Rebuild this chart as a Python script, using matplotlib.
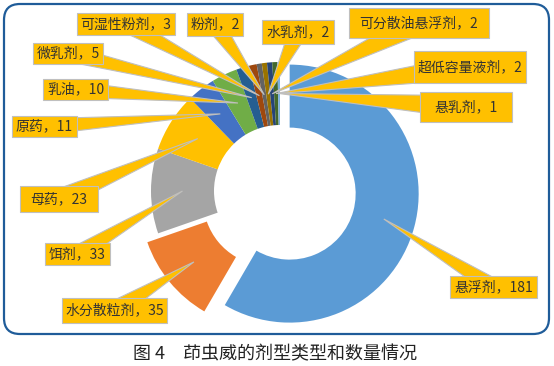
import numpy as np
import matplotlib
matplotlib.use("Agg")
import matplotlib.pyplot as plt
from matplotlib.patches import FancyBboxPatch, Rectangle, Polygon

plt.rcParams['font.family'] = ['Noto Sans CJK SC', 'DejaVu Sans']

# data
names = ['悬浮剂', '水分散粒剂', '饵剂', '母药', '原药', '乳油', '微乳剂',
         '可湿性粉剂', '粉剂', '水乳剂', '可分散油悬浮剂', '超低容量液剂', '悬乳剂']
counts = [181, 35, 33, 23, 11, 10, 5, 3, 2, 2, 2, 2, 1]
colors = ['#5B9BD5', '#ED7D31', '#A5A5A5', '#FFC000', '#4472C4', '#70AD47',
          '#255E91', '#9E480E', '#636363', '#997300', '#264478', '#43682B',
          '#7CAFDD']
explode = [10, 14, 0, 0, 0, 0, 0, 0, 0, 0, 0, 0, 0]

# label boxes in pixel coords (x0, y0, x1, y1), y measured from the top
boxes = [(450, 276, 537, 298), (62, 298, 167, 323), (45, 243, 110, 265),
         (20, 186, 98, 212), (12, 116, 77, 137), (43, 79, 108, 100),
         (33, 43, 103, 64), (77, 13, 175, 35), (187, 13, 243, 36),
         (262, 20, 334, 44), (349, 8, 489, 38), (414, 51, 526, 83),
         (420, 92, 512, 122)]

W, H = 554, 366
R, RING = 129, 63
CX, CY = 280, 191

fig = plt.figure(figsize=(W / 100, H / 100), dpi=100)
ax = fig.add_axes([0, 0, 1, 1])

wedges, _ = ax.pie(counts, colors=colors, startangle=90, counterclock=False,
                   radius=R, center=(CX, H - CY), explode=explode,
                   wedgeprops=dict(width=RING, linewidth=0))

ax.set_xlim(0, W)
ax.set_ylim(0, H)
ax.set_aspect('equal')
ax.axis('off')

# outer frame
frame = FancyBboxPatch((4, H - 334), 545, 330,
                       boxstyle="round,pad=0,rounding_size=16",
                       facecolor='none', edgecolor='#1F5C99', linewidth=1.6,
                       zorder=0)
ax.add_patch(frame)

# callout labels
for w, name, n, (x0, y0, x1, y1) in zip(wedges, names, counts, boxes):
    cx, cy = w.center
    ang = np.deg2rad((w.theta1 + w.theta2) / 2)
    rm = w.r - w.width / 2
    tx, ty = cx + rm * np.cos(ang), cy + rm * np.sin(ang)

    bx, by = (x0 + x1) / 2, H - (y0 + y1) / 2
    dx, dy = tx - bx, ty - by
    L = np.hypot(dx, dy)
    px, py = -dy / L, dx / L
    hw = 0.38 * (y1 - y0)
    tail = Polygon([(bx + px * hw, by + py * hw), (bx - px * hw, by - py * hw),
                    (tx, ty)], closed=True, facecolor='#FFC000',
                   edgecolor='#BFBFBF', linewidth=0.8, zorder=3)
    ax.add_patch(tail)

    ax.add_patch(Rectangle((x0, H - y1), x1 - x0, y1 - y0, facecolor='#FFC000',
                           edgecolor='#BFBFBF', linewidth=0.8, zorder=4))
    ax.text(bx, by, f'{name}，{n}', ha='center', va='center', fontsize=10,
            color='#333333', zorder=5)

# caption
ax.text(275, H - 354, '图 4\u3000茚虫威的剂型类型和数量情况', ha='center',
        va='center', fontsize=13, color='#222222')

fig.savefig('out.png', dpi=100)
